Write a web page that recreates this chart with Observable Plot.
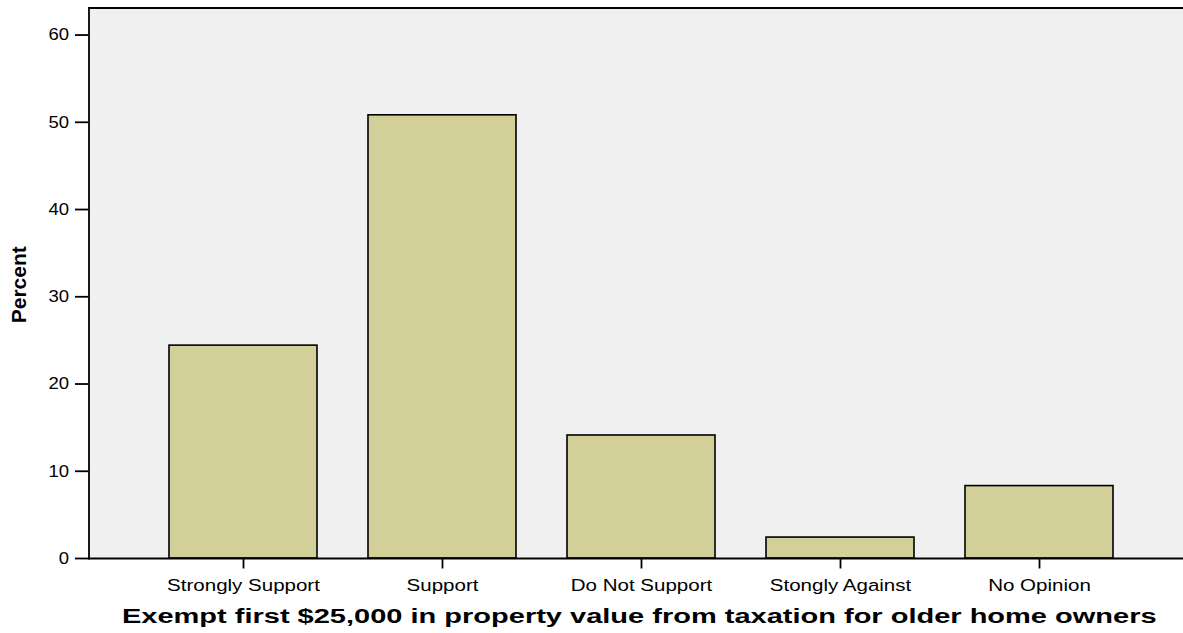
<!DOCTYPE html>
<html>
<head>
<meta charset="utf-8">
<script src="https://cdn.jsdelivr.net/npm/d3@7"></script>
<script src="https://cdn.jsdelivr.net/npm/@observablehq/plot@0.6"></script>
<style>
  html, body { margin: 0; padding: 0; background: #fff; }
  svg { display: block; }
</style>
</head>
<body>
<div id="chart"></div>
<script>
const categories = ["Strongly Support", "Support", "Do Not Support", "Stongly Against", "No Opinion"];
const percents = [24.4, 50.8, 14.1, 2.4, 8.3];
const yTicks = [0, 10, 20, 30, 40, 50, 60];
const xTitle = "Exempt first $25,000 in property value from taxation for older home owners";
const yTitle = "Percent";

const data = categories.map((c, i) => ({category: c, percent: percents[i]}));

const chart = Plot.plot({
  width: 1183,
  height: 633,
  marginTop: 7.5,
  marginBottom: 75,
  marginLeft: 88.5,
  marginRight: 0,
  style: {fontFamily: "Liberation Sans, Arial, sans-serif", background: "#fff", color: "#000"},
  x: {domain: categories, range: [143.8, 1138.8], paddingInner: 0.256, paddingOuter: 0.128},
  y: {domain: [0, 63.1]},
  marks: [
    Plot.frame({fill: "#f0f0f0", stroke: null}),
    Plot.barY(data, {x: "category", y: "percent", fill: "#d2cf98", stroke: "#000", strokeWidth: 1.6}),
    Plot.frame({anchor: "top", stroke: "#000", strokeWidth: 1.8}),
    Plot.frame({anchor: "left", stroke: "#000", strokeWidth: 1.8}),
    Plot.frame({anchor: "bottom", stroke: "#000", strokeWidth: 1.8}),
    Plot.axisY({ticks: yTicks, tickSize: 13.5, tickPadding: 6.5, fontSize: 16.5, label: null, strokeWidth: 1.8}),
    Plot.axisX({tickSize: 10.5, tickPadding: 10.5, fontSize: 16.3, label: null, strokeWidth: 1.8}),
    Plot.text([xTitle], {frameAnchor: "bottom", dx: 3, dy: 64.5, text: d => d, fontSize: 20, fontWeight: "bold", textAnchor: "middle", lineAnchor: "bottom", className: "xtitle"}),
    Plot.text([yTitle], {frameAnchor: "left", dx: -69.5, dy: 1.5, text: d => d, fontSize: 21, fontWeight: "bold", rotate: -90, textAnchor: "middle", lineAnchor: "middle"})
  ]
});
document.getElementById("chart").appendChild(chart);

// The reference's typeface is set wider than Arial: stretch glyphs horizontally.
function stretch(selector, factor) {
  chart.querySelectorAll(selector).forEach(t => {
    const len = t.getComputedTextLength();
    t.setAttribute("textLength", len * factor);
    t.setAttribute("lengthAdjust", "spacingAndGlyphs");
  });
}
stretch('g[aria-label="x-axis tick label"] text', 1.26);
stretch('g[aria-label="y-axis tick label"] text', 1.12);
stretch('g.xtitle text, .xtitle text', 1.45);
</script>
</body>
</html>
